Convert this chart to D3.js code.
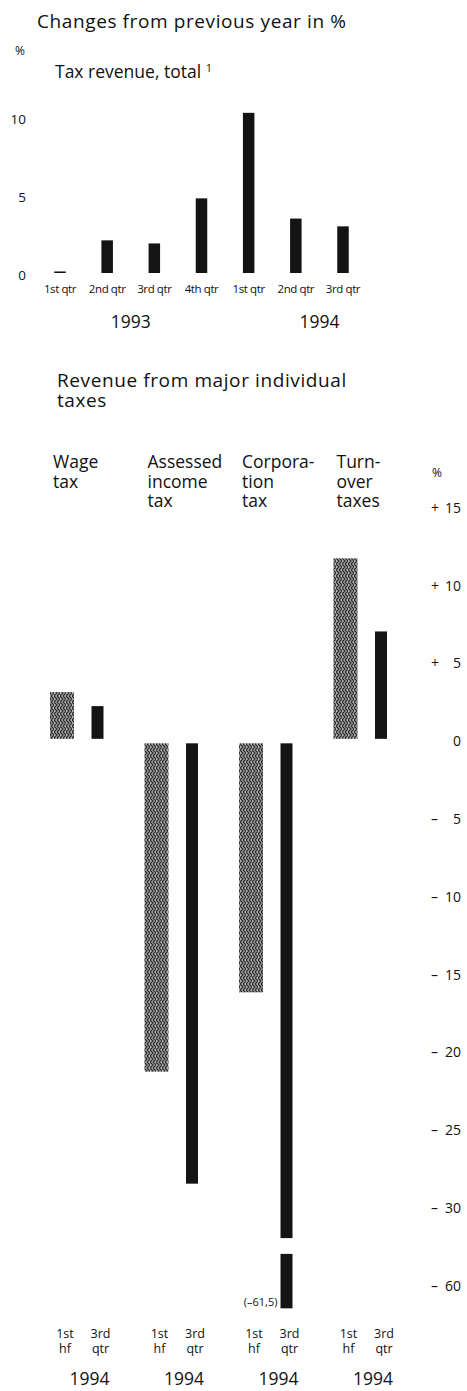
<!DOCTYPE html>
<html>
<head>
<meta charset="utf-8">
<script src="https://cdn.jsdelivr.net/npm/d3@7"></script>
<style>
    body { margin: 0; background: #ffffff; }
    text { font-family: "Open Sans", sans-serif; fill: #111111; }
</style>
</head>
<body>
<div id="chart"></div>
<script>

// Data: tax revenue, total (changes from previous year in %)
//
var quarterKeys    = ["1993 Q1", "1993 Q2", "1993 Q3", "1993 Q4", "1994 Q1", "1994 Q2", "1994 Q3"];
var quarterLabels  = ["1st qtr", "2nd qtr", "3rd qtr", "4th qtr", "1st qtr", "2nd qtr", "3rd qtr"];
var totalChange    = [0.1, 2.1, 1.9, 4.8, 10.3, 3.5, 3.0];
var totalYears     = ["1993", "1994"];
var totalTicks     = [0, 5, 10];

// Data: revenue from major individual taxes
//
var taxNames       = ["Wage tax", "Assessed income tax", "Corporation tax", "Turnover taxes"];
var taxHeaders     = [["Wage", "tax"], ["Assessed", "income", "tax"], ["Corpora-", "tion", "tax"], ["Turn-", "over", "taxes"]];
var periods        = ["1st hf", "3rd qtr"];
var periodLabels   = [["1st", "hf"], ["3rd", "qtr"]];
var periodYear     = "1994";
var firstHalf      = [3.1, -21.3, -16.2, 11.7];
var thirdQuarter   = [2.2, -28.5, -61.5, 7.0];
var taxTicks       = [15, 10, 5, 0, -5, -10, -15, -20, -25, -30, -60];
var breakTop       = -32;
var breakBottom    = -58;

// Set globals
//
var svg_width   = 467;
var svg_height  = 1391;

var svg = d3.select("#chart").append("svg")
    .attr("xmlns", "http://www.w3.org/2000/svg")
    .attr("width", svg_width)
    .attr("height", svg_height)
    .attr("viewBox", `0 0 ${svg_width} ${svg_height}`);

// Hatched (herringbone) fill for the first half-year bars
//
var defs = svg.append("defs");
var hatch = defs.append("pattern")
    .attr("id", "herringbone")
    .attr("patternUnits", "userSpaceOnUse")
    .attr("width", 6)
    .attr("height", 6);
hatch.append("rect")
    .attr("width", 6)
    .attr("height", 6)
    .attr("fill", "#b4b4b4");
hatch.append("path")
    .attr("d", "M0,0 L3,3 L0,6 M3,0 L6,3 L3,6")
    .attr("fill", "none")
    .attr("stroke", "#2a2a2a")
    .attr("stroke-width", 1.3);

plotTotal(svg);
plotTaxes(svg);

// Upper panel: tax revenue, total
//
function plotTotal(svg) {

    let g = svg.append("g").attr("class", "total");

    g.append("text")
        .attr("x", 37)
        .attr("y", 28)
        .style("font-size", "19px")
        .style("letter-spacing", "0.6px")
        .text("Changes from previous year in %");

    g.append("text")
        .attr("x", 15)
        .attr("y", 55)
        .style("font-size", "12px")
        .text("%");

    let title = g.append("text")
        .attr("x", 55)
        .attr("y", 78)
        .style("font-size", "17.5px")
        .text("Tax revenue, total ");
    title.append("tspan")
        .attr("dy", -6)
        .style("font-size", "11px")
        .text("1");

    let x = d3.scalePoint()
        .domain(quarterKeys)
        .range([60, 343]);

    let y = d3.scaleLinear()
        .domain([0, 10])
        .range([273, 117.5]);

    let barWidth = 11.5;

    // Left axis labels
    //
    g.selectAll(".ytick")
        .data(totalTicks)
        .join("text")
        .attr("class", "ytick")
        .attr("x", 26)
        .attr("y", d => y(d) + 2)
        .attr("dy", "0.35em")
        .attr("text-anchor", "end")
        .style("font-size", "13.5px")
        .text(d => d);

    // Bars
    //
    g.selectAll(".bar")
        .data(totalChange)
        .join("rect")
        .attr("class", "bar")
        .attr("x", (d, i) => x(quarterKeys[i]) - barWidth / 2)
        .attr("y", d => y(d))
        .attr("width", barWidth)
        .attr("height", d => Math.max(1.2, y(0) - y(d)))
        .attr("fill", "#141414");

    // Quarter labels
    //
    g.selectAll(".qlabel")
        .data(quarterLabels)
        .join("text")
        .attr("class", "qlabel")
        .attr("x", (d, i) => x(quarterKeys[i]))
        .attr("y", 293)
        .attr("text-anchor", "middle")
        .style("font-size", "11.5px")
        .style("letter-spacing", "-0.4px")
        .text(d => d);

    // Year labels, centred between 2nd and 3rd quarter
    //
    g.selectAll(".year")
        .data(totalYears)
        .join("text")
        .attr("class", "year")
        .attr("x", d => (x(d + " Q2") + x(d + " Q3")) / 2)
        .attr("y", 328)
        .attr("text-anchor", "middle")
        .style("font-size", "17.5px")
        .text(d => d);
}

// Lower panel: revenue from major individual taxes
//
function plotTaxes(svg) {

    let g = svg.append("g").attr("class", "taxes");

    g.append("text")
        .attr("x", 57)
        .attr("y", 387)
        .style("font-size", "19px")
        .style("letter-spacing", "0.6px")
        .text("Revenue from major individual");
    g.append("text")
        .attr("x", 57)
        .attr("y", 407)
        .style("font-size", "19px")
        .style("letter-spacing", "0.6px")
        .text("taxes");

    let x = d3.scaleBand()
        .domain(taxNames)
        .range([50, 428]);

    let inner = d3.scaleOrdinal()
        .domain(periods)
        .range([0, 41.5]);

    let widths = d3.scaleOrdinal()
        .domain(periods)
        .range([24, 12]);

    let fills = d3.scaleOrdinal()
        .domain(periods)
        .range(["url(#herringbone)", "#141414"]);

    // Main scale and the scale below the axis break
    //
    let y = d3.scaleLinear()
        .domain([15, -30])
        .range([507, 1207]);

    let yLow = d3.scaleLinear()
        .domain([-60, -62])
        .range([1285, 1285 + 2 * (y(0) - y(1))]);

    let yPos = d => d < breakBottom ? yLow(d) : y(d);

    // Column headers, one text per line
    //
    taxNames.forEach(function(name, i) {
        taxHeaders[i].forEach(function(line, j) {
            g.append("text")
                .attr("x", x(name) + 3)
                .attr("y", 468 + j * 19.5)
                .style("font-size", "17.5px")
                .text(line);
        });
    });

    // Right axis
    //
    g.append("text")
        .attr("x", 432)
        .attr("y", 477)
        .style("font-size", "12px")
        .text("%");

    let ticks = g.selectAll(".ytick")
        .data(taxTicks)
        .join("g")
        .attr("class", "ytick")
        .attr("transform", d => `translate(0,${yPos(d) + 1})`);

    ticks.append("text")
        .attr("x", 431)
        .attr("dy", "0.35em")
        .style("font-size", "14px")
        .text(d => d > 0 ? "+" : (d < 0 ? "\u2013" : ""));

    ticks.append("text")
        .attr("x", 461)
        .attr("dy", "0.35em")
        .attr("text-anchor", "end")
        .style("font-size", "14px")
        .text(d => Math.abs(d));

    // Bars
    //
    let records = [];
    taxNames.forEach(function(name, i) {
        records.push({ tax: name, period: periods[0], value: firstHalf[i] });
        records.push({ tax: name, period: periods[1], value: thirdQuarter[i] });
    });

    let zero = y(0);

    records.forEach(function(d) {
        let bx = x(d.tax) + inner(d.period);
        let bw = widths(d.period);

        if (d.value >= 0) {
            g.append("rect")
                .attr("x", bx)
                .attr("y", y(d.value))
                .attr("width", bw)
                .attr("height", zero - 1.5 - y(d.value))
                .attr("fill", fills(d.period));
        }
        else if (d.value >= breakTop) {
            g.append("rect")
                .attr("x", bx)
                .attr("y", zero + 3)
                .attr("width", bw)
                .attr("height", y(d.value) - zero - 3)
                .attr("fill", fills(d.period));
        }
        else {
            // Broken bar: upper part down to the break, lower part below it
            //
            g.append("rect")
                .attr("x", bx)
                .attr("y", zero + 3)
                .attr("width", bw)
                .attr("height", y(breakTop) - zero - 3)
                .attr("fill", fills(d.period));
            g.append("rect")
                .attr("x", bx)
                .attr("y", yLow(breakBottom))
                .attr("width", bw)
                .attr("height", yLow(d.value) - yLow(breakBottom))
                .attr("fill", fills(d.period));
            g.append("text")
                .attr("x", bx - 3)
                .attr("y", yLow(d.value) - 6)
                .attr("dy", "0.35em")
                .attr("text-anchor", "end")
                .style("font-size", "11px")
                .text(`(\u2013${String(Math.abs(d.value)).replace(".", ",")})`);
        }
    });

    // Period labels (one text per line) and years
    //
    taxNames.forEach(function(name) {
        periods.forEach(function(p, j) {
            let cx = x(name) + inner(p) + widths(p) / 2 + 3;
            periodLabels[j].forEach(function(line, k) {
                g.append("text")
                    .attr("x", cx)
                    .attr("y", 1338 + k * 14.5)
                    .attr("text-anchor", "middle")
                    .style("font-size", "12.5px")
                    .text(line);
            });
        });

        g.append("text")
            .attr("x", x(name) + 39.5)
            .attr("y", 1385)
            .attr("text-anchor", "middle")
            .style("font-size", "17.5px")
            .text(periodYear);
    });
}
</script>
</body>
</html>
